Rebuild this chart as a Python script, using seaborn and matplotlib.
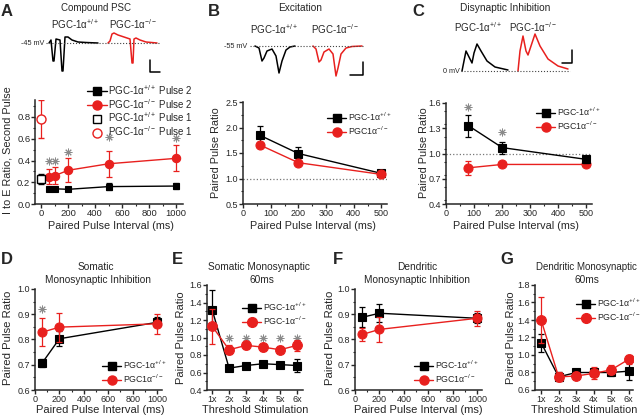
import matplotlib
matplotlib.use('Agg')
import matplotlib.pyplot as plt
import seaborn as sns
import pandas as pd
from matplotlib.lines import Line2D
from matplotlib.ticker import MultipleLocator, NullLocator, FormatStrFormatter

# ---------------- DATA ----------------
RED = '#e8201e'
WT = 'PGC-1α$^{+/+}$'
KO = 'PGC1α$^{-/-}$'
KO2 = 'PGC-1α$^{-/-}$'

# A - compound PSC
a_x = [60, 100, 200, 500, 1000]
a_wt = [0.135, 0.14, 0.135, 0.16, 0.165]
a_wt_err = [0.02, 0.02, 0.015, 0.03, 0.03]
a_ko = [0.25, 0.26, 0.31, 0.37, 0.42]
a_ko_err = [0.07, 0.08, 0.11, 0.12, 0.12]
a_p1_x = [0]
a_p1_wt = [0.23]
a_p1_wt_err = [0.05]
a_p1_ko = [0.78]
a_p1_ko_err = [0.175]
a_sig_x = [60, 100, 200, 500, 1000]
a_sig_y = [0.40, 0.40, 0.48, 0.62, 0.61]

# B - excitation
b_x = [60, 200, 500]
b_wt = [1.85, 1.49, 1.10]
b_wt_err = [0.17, 0.13, 0.04]
b_ko = [1.66, 1.31, 1.08]
b_ko_err = [0.05, 0.04, 0.04]

# C - disynaptic inhibition
c_x = [80, 200, 500]
c_wt = [1.33, 1.07, 0.93]
c_wt_err = [0.13, 0.07, 0.04]
c_ko = [0.83, 0.87, 0.87]
c_ko_err = [0.08, 0.02, 0.02]
c_sig_x = [80, 200]
c_sig_y = [1.55, 1.25]
c_yticks = [0.4, 0.7, 1.0, 1.3, 1.6]

# D - somatic monosynaptic inhibition
d_x = [60, 200, 1000]
d_wt = [0.708, 0.803, 0.868]
d_wt_err = [0.015, 0.03, 0.02]
d_ko = [0.829, 0.849, 0.862]
d_ko_err = [0.055, 0.057, 0.04]
d_sig_x = [60]
d_sig_y = [0.92]

# E - somatic monosynaptic 60ms
thr = [1, 2, 3, 4, 5, 6]
thr_labels = ['1x', '2x', '3x', '4x', '5x', '6x']
e_wt = [1.32, 0.65, 0.68, 0.70, 0.69, 0.68]
e_wt_err = [0.22, 0.03, 0.03, 0.03, 0.03, 0.07]
e_ko = [1.13, 0.86, 0.91, 0.89, 0.86, 0.91]
e_ko_err = [0.20, 0.05, 0.04, 0.04, 0.04, 0.06]
e_sig_x = [2, 3, 4, 5, 6]
e_sig_y = [1.0, 1.0, 1.0, 1.0, 1.0]

# F - dendritic monosynaptic inhibition
f_x = [60, 200, 1000]
f_wt = [0.888, 0.904, 0.884]
f_wt_err = [0.04, 0.035, 0.02]
f_ko = [0.82, 0.84, 0.884]
f_ko_err = [0.025, 0.05, 0.03]

# G - dendritic monosynaptic 60ms
g_wt = [1.14, 0.75, 0.80, 0.80, 0.80, 0.815]
g_wt_err = [0.10, 0.05, 0.03, 0.04, 0.04, 0.10]
g_ko = [1.40, 0.75, 0.76, 0.79, 0.83, 0.95]
g_ko_err = [0.26, 0.05, 0.04, 0.07, 0.05, 0.05]

# example traces (time, deflection from baseline)
tr_a_wt_t = [49, 51, 53, 54, 56, 60, 62, 63, 65, 68, 72, 78, 86, 98]
tr_a_wt_v = [0, 3, -18, -18, 4, 3, -28, -28, 6, 6, 3, 1, 0.5, 0]
tr_a_ko_t = [108, 110, 112, 114, 118, 124, 130, 132, 133, 134, 136, 140, 146, 157]
tr_a_ko_v = [0, 2, 9, 10, 8, 6, 4, -20, -20, 4, 5, 3, 1, 0]
tr_b_wt_t = [255, 259, 262, 264, 267, 272, 276, 279, 282, 286, 290, 295]
tr_b_wt_v = [0, -2, -15, -12, -5, -3, -10, -27, -15, -4, -1, 0]
tr_b_ko_t = [313, 316, 319, 321, 324, 329, 333, 336, 338, 341, 346, 352, 362]
tr_b_ko_v = [0, -3, -16, -14, -6, -3, -8, -30, -22, -8, -2, -0.5, 0]
tr_c_wt_t = [462, 464, 466, 468, 472, 474, 477, 481, 487, 495, 508]
tr_c_wt_v = [0, 10, 20, 16, 8, 18, 27, 20, 10, 4, 1]
tr_c_ko_t = [518, 520, 523, 526, 528, 531, 535, 540, 548, 558, 568]
tr_c_ko_v = [0, 20, 35, 20, 16, 25, 37, 25, 12, 5, 2]

# ---------------- FIGURE ----------------
sns.set_style('ticks')
plt.rcParams['font.family'] = ['Liberation Sans', 'DejaVu Sans']
plt.rcParams['mathtext.fontset'] = 'custom'
plt.rcParams['mathtext.rm'] = 'Liberation Sans'
plt.rcParams['mathtext.it'] = 'Liberation Sans'

W, H = 640, 417
fig = plt.figure(figsize=(6.4, 4.17), dpi=100)


def px_axes(left, top, right, bottom):
    return fig.add_axes([left / W, 1 - bottom / H, (right - left) / W, (bottom - top) / H])


def fx(x):
    return x / W


def fy(y):
    return 1 - y / H


def series(ax, x, y, err, color, marker, ms, z):
    ax.errorbar(x, y, yerr=err, fmt='none', ecolor=color, elinewidth=0.9,
                capsize=2.2, capthick=0.9, zorder=z)
    df = pd.DataFrame({'x': x, 'y': y})
    sns.lineplot(data=df, x='x', y='y', color=color, marker=marker, markersize=ms,
                 markeredgecolor=color, markeredgewidth=0.8, linewidth=1.0,
                 ax=ax, zorder=z + 1)


def style(ax, xlim, ylim, xmaj, xmin, ymaj, ymin, size=6.5):
    ax.set_xlim(*xlim)
    ax.set_ylim(*ylim)
    ax.xaxis.set_major_locator(MultipleLocator(xmaj))
    ax.xaxis.set_minor_locator(MultipleLocator(xmin))
    ax.yaxis.set_major_locator(MultipleLocator(ymaj))
    ax.yaxis.set_minor_locator(MultipleLocator(ymin))
    ax.yaxis.set_major_formatter(FormatStrFormatter('%.1f'))
    sns.despine(ax=ax)
    for s in ['left', 'bottom']:
        ax.spines[s].set_linewidth(1.1)
    ax.tick_params(which='major', direction='out', length=2.6, width=1, labelsize=size, pad=0.8)
    ax.tick_params(which='minor', direction='out', length=1.6, width=0.8)
    ax.set_xlabel('')
    ax.set_ylabel('')


def legend(labels, anchor, size=6.3, ms_sq=5.5, ms_ci=6.5):
    handles = [Line2D([], [], color='black', marker='s', ms=ms_sq, lw=1.0),
               Line2D([], [], color=RED, marker='o', ms=ms_ci, lw=1.0)]
    fig.legend(handles, labels, loc='upper left', bbox_to_anchor=(fx(anchor[0]), fy(anchor[1])),
               frameon=False, fontsize=size, handlelength=2.2, handletextpad=0.15,
               labelspacing=0.15, borderpad=0, borderaxespad=0)


def stars(ax, x, y):
    ax.plot(x, y, ls='none', marker=(8, 2, 0), ms=5.5, mew=0.7, color='#8a8a8a')


def xticks_cat(ax):
    ax.set_xticks(thr)
    ax.set_xticklabels(thr_labels)
    ax.xaxis.set_minor_locator(NullLocator())


# ---------------- A ----------------
axA = px_axes(35, 99.6, 183, 204)
series(axA, a_x, a_wt, a_wt_err, 'black', 's', 5, 3)
series(axA, a_x, a_ko, a_ko_err, RED, 'o', 6, 5)
axA.errorbar(a_p1_x, a_p1_wt, yerr=a_p1_wt_err, fmt='s', ms=5.5, mfc='white', mec='black',
             ecolor='black', elinewidth=0.9, capsize=2.2, zorder=6)
axA.errorbar(a_p1_x, a_p1_ko, yerr=a_p1_ko_err, fmt='o', ms=6.5, mfc='white', mec=RED,
             ecolor=RED, elinewidth=0.9, capsize=2.2, zorder=6)
stars(axA, a_sig_x, a_sig_y)
style(axA, (-45, 1050), (0, 0.96), 200, 100, 0.2, 0.1, size=6.8)
hA = [Line2D([], [], color='black', marker='s', ms=5.5, lw=1.0),
      Line2D([], [], color=RED, marker='o', ms=6.5, lw=1.0),
      Line2D([], [], color='black', marker='s', ms=5.5, mfc='white', lw=0),
      Line2D([], [], color=RED, marker='o', ms=6.5, mfc='white', lw=0)]
fig.legend(hA, [WT + ' Pulse 2', KO2 + ' Pulse 2', WT + ' Pulse 1', KO2 + ' Pulse 1'],
           loc='upper left', bbox_to_anchor=(fx(87), fy(83)), frameon=False, fontsize=7.0,
           handlelength=2.1, handletextpad=0.1, labelspacing=0.0, borderpad=0, borderaxespad=0)

# ---------------- B ----------------
axB = px_axes(243, 102, 387, 204)
axB.axhline(1.0, color='#777777', ls=':', lw=0.9)
series(axB, b_x, b_wt, b_wt_err, 'black', 's', 6, 3)
series(axB, b_x, b_ko, b_ko_err, RED, 'o', 6.5, 5)
style(axB, (0, 520), (0.5, 2.5), 100, 50, 0.5, 0.25)
legend([WT, KO], (327, 111))

# ---------------- C ----------------
axC = px_axes(446, 103, 592, 204)
axC.axhline(1.0, color='#777777', ls=':', lw=0.9)
series(axC, c_x, c_wt, c_wt_err, 'black', 's', 6, 5)
series(axC, c_x, c_ko, c_ko_err, RED, 'o', 6.5, 3)
stars(axC, c_sig_x, c_sig_y)
style(axC, (0, 520), (0.4, 1.6), 100, 50, 0.3, 0.15)
axC.set_yticks(c_yticks)
legend([WT, KO], (536, 106))

# ---------------- D ----------------
axD = px_axes(35, 289, 162, 390)
series(axD, d_x, d_wt, d_wt_err, 'black', 's', 6, 3)
series(axD, d_x, d_ko, d_ko_err, RED, 'o', 6.5, 5)
stars(axD, d_sig_x, d_sig_y)
style(axD, (0, 1040), (0.6, 1.0), 200, 100, 0.1, 0.05)
legend([WT, KO], (102, 359))

# ---------------- E ----------------
axE = px_axes(207, 285, 303, 390)
series(axE, thr, e_wt, e_wt_err, 'black', 's', 6, 3)
series(axE, thr, e_ko, e_ko_err, RED, 'o', 7, 5)
stars(axE, e_sig_x, e_sig_y)
style(axE, (0.7, 6.35), (0.4, 1.6), 1, 1, 0.2, 0.1)
xticks_cat(axE)
legend([WT, KO2], (242, 301), ms_ci=7)

# ---------------- F ----------------
axF = px_axes(355, 289, 482, 390)
series(axF, f_x, f_wt, f_wt_err, 'black', 's', 6, 3)
series(axF, f_x, f_ko, f_ko_err, RED, 'o', 6.5, 5)
style(axF, (0, 1040), (0.6, 1.0), 200, 100, 0.1, 0.05)
legend([WT, KO], (414, 359))

# ---------------- G ----------------
axG = px_axes(535, 285, 633, 390)
series(axG, thr, g_wt, g_wt_err, 'black', 's', 6, 3)
series(axG, thr, g_ko, g_ko_err, RED, 'o', 7, 5)
style(axG, (0.65, 6.25), (0.6, 1.8), 1, 1, 0.2, 0.1)
xticks_cat(axG)
legend([WT, KO2], (576, 297), ms_ci=7)

# ---------------- traces ----------------
tr = fig.add_axes([0, 0, 1, 1], zorder=-1)
tr.set_xlim(0, W)
tr.set_ylim(H, 0)
tr.axis('off')
for t, v, base, col in [(tr_a_wt_t, tr_a_wt_v, 43, 'black'), (tr_a_ko_t, tr_a_ko_v, 43, RED),
                        (tr_b_wt_t, tr_b_wt_v, 46, 'black'), (tr_b_ko_t, tr_b_ko_v, 46, RED),
                        (tr_c_wt_t, tr_c_wt_v, 71, 'black'), (tr_c_ko_t, tr_c_ko_v, 71, RED)]:
    tr.plot(t, [base - val for val in v], color=col, lw=1.1)
tr.plot([46, 160], [43, 43], color='#444444', ls=':', lw=0.8)
tr.plot([250, 363], [46, 46], color='#444444', ls=':', lw=0.8)
tr.plot([461, 570], [71, 71], color='#444444', ls=':', lw=0.8)
# scale bars
tr.plot([150, 150, 160], [60, 72, 72], color='black', lw=1.1)
tr.plot([350, 363, 363], [75, 75, 62], color='black', lw=1.1)
tr.plot([562, 572, 572], [63, 63, 50], color='black', lw=1.1)
tr.text(44, 43, '-45 mV', fontsize=5.2, ha='right', va='center')
tr.text(247, 46, '-55 mV', fontsize=5.2, ha='right', va='center')
tr.text(460, 71, '0 mV', fontsize=5.2, ha='right', va='center')


# ---------------- text ----------------
def t(x, y, s, **kw):
    kw.setdefault('fontsize', 7.3)
    kw.setdefault('ha', 'center')
    kw.setdefault('va', 'center')
    fig.text(fx(x), fy(y), s, **kw)


t(7, 12, 'A', fontsize=12, fontweight='bold')
t(214, 12, 'B', fontsize=12, fontweight='bold')
t(418, 12, 'C', fontsize=12, fontweight='bold')
t(7, 259, 'D', fontsize=12, fontweight='bold')
t(177, 259, 'E', fontsize=12, fontweight='bold')
t(338, 259, 'F', fontsize=12, fontweight='bold')
t(507, 259, 'G', fontsize=12, fontweight='bold')

t(96, 8, 'Compound PSC', fontsize=7.0)
t(300, 8, 'Excitation')
t(505, 8, 'Disynaptic Inhibition')
t(75, 24, WT, fontsize=7)
t(133, 24, KO2, fontsize=7)
t(274, 29, WT, fontsize=7)
t(335, 29, KO2, fontsize=7)
t(478, 27, WT, fontsize=7)
t(533, 27, KO2, fontsize=7)

t(96, 267, 'Somatic')
t(98, 280, 'Monosynaptic Inhibition')
t(259, 267, 'Somatic Monosynaptic')
t(262, 280, '60ms')
t(417, 267, 'Dendritic')
t(417, 280, 'Monosynaptic Inhibition')
t(586, 267, 'Dendritic Monosynaptic', fontsize=7)
t(587, 280, '60ms')

t(111, 226, 'Paired Pulse Interval (ms)', fontsize=7.8)
t(313, 226, 'Paired Pulse Interval (ms)', fontsize=7.8)
t(516, 226, 'Paired Pulse Interval (ms)', fontsize=7.8)
t(100, 410, 'Paired Pulse Interval (ms)', fontsize=8.0)
t(255, 410, 'Threshold Stimulation', fontsize=7.8)
t(418, 410, 'Paired Pulse Interval (ms)', fontsize=8.0)
t(584, 410, 'Threshold Stimulation', fontsize=7.8)

t(8, 150, 'I to E Ratio, Second Pulse', rotation=90, fontsize=7.8)
t(216, 153, 'Paired Pulse Ratio', rotation=90, fontsize=7.8)
t(424, 153, 'Paired Pulse Ratio', rotation=90, fontsize=7.8)
t(8, 338, 'Paired Pulse Ratio', rotation=90, fontsize=8.2)
t(181, 338, 'Paired Pulse Ratio', rotation=90, fontsize=8)
t(330, 338, 'Paired Pulse Ratio', rotation=90, fontsize=8.2)
t(511, 338, 'Paired Pulse Ratio', rotation=90, fontsize=8)

fig.savefig('out.png', dpi=100)
